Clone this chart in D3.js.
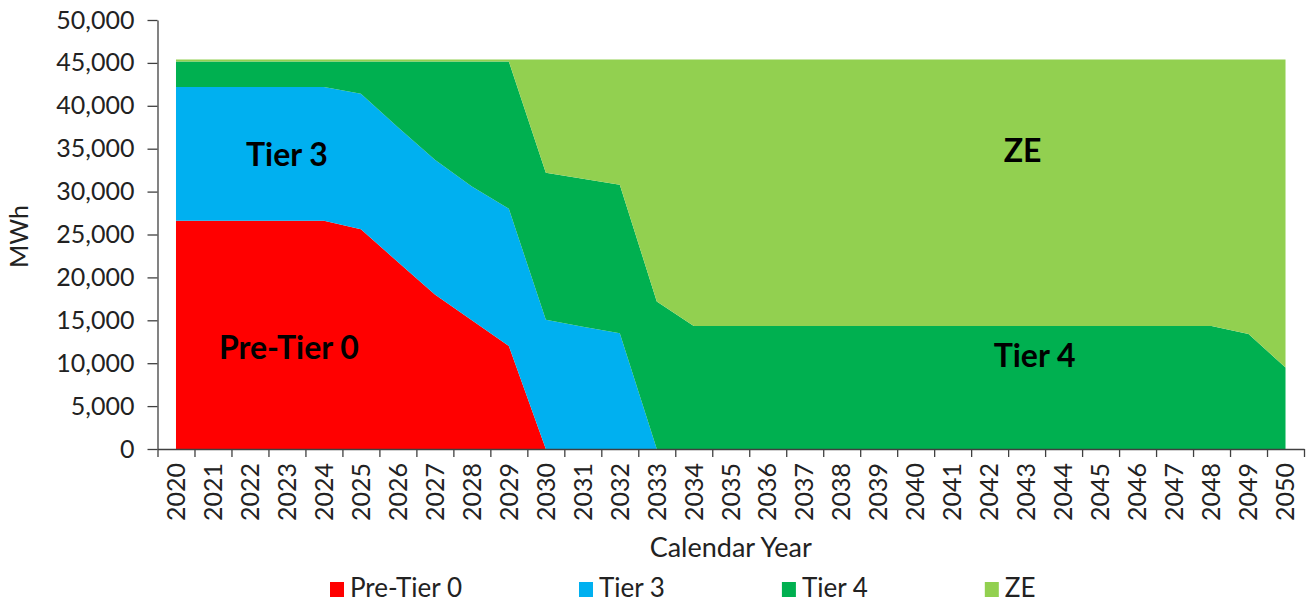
<!DOCTYPE html>
<html lang="en">
<head>
  <meta charset="utf-8">
  <title>MWh by engine tier</title>
  <script src="https://d3js.org/d3.v7.min.js"></script>
  <style>
    body {
      margin: 0;
      background: #fff;
      font-family: "Lato", "Open Sans", sans-serif;
    }
    .axis .domain, .axis line {
      stroke: #404040;
      stroke-width: 1.3;
    }
    .axis text {
      fill: #222;
      font-size: 25px;
      font-family: "Lato", sans-serif;
    }
    .area-label {
      font-weight: bold;
      font-size: 32px;
      fill: #000;
      text-anchor: middle;
    }
  </style>
</head>
<body>
<script>
  // data (MWh per year)
  var years = d3.range(2020, 2051).map(String);

  var preTier0 = [26600, 26600, 26600, 26600, 26600, 25600, 21800, 18000, 15000, 12000,
    0, 0, 0, 0, 0, 0, 0, 0, 0, 0, 0, 0, 0, 0, 0, 0, 0, 0, 0, 0, 0];
  var tier3 = [15600, 15600, 15600, 15600, 15600, 15800, 15700, 15700, 15600, 16000,
    15050, 14250, 13500, 0, 0, 0, 0, 0, 0, 0, 0, 0, 0, 0, 0, 0, 0, 0, 0, 0, 0];
  var tier4 = [2950, 2950, 2950, 2950, 2950, 3750, 7650, 11450, 14550, 17150,
    17150, 17250, 17300, 17200, 14350, 14350, 14350, 14350, 14350, 14350, 14350,
    14350, 14350, 14350, 14350, 14350, 14350, 14350, 14350, 13400, 9500];
  var ze = [250, 250, 250, 250, 250, 250, 250, 250, 250, 250,
    13200, 13900, 14600, 28200, 31050, 31050, 31050, 31050, 31050, 31050, 31050,
    31050, 31050, 31050, 31050, 31050, 31050, 31050, 31050, 32000, 35900];

  var seriesNames = ["Pre-Tier 0", "Tier 3", "Tier 4", "ZE"];
  var seriesColors = ["#ff0000", "#00b0f0", "#00b050", "#92d050"];
  var yTicks = d3.range(0, 50001, 5000);

  var width = 1307, height = 603;
  var plotLeft = 157.5, plotRight = 1304, plotTop = 20, plotBottom = 449;

  var svg = d3.select("body").append("svg")
    .attr("width", width)
    .attr("height", height);

  // build rows for the stack
  var rows = years.map(function(yr, i) {
    return { year: yr, "Pre-Tier 0": preTier0[i], "Tier 3": tier3[i], "Tier 4": tier4[i], "ZE": ze[i] };
  });
  var stacked = d3.stack().keys(seriesNames)(rows);

  var x = d3.scaleBand().domain(years).range([plotLeft, plotRight]).padding(0);
  var xc = function(yr) { return x(yr) + x.bandwidth() / 2; };
  var y = d3.scaleLinear().domain([0, 50000]).range([plotBottom, plotTop]);

  var area = d3.area()
    .x(function(d) { return xc(d.data.year); })
    .y0(function(d) { return y(d[0]); })
    .y1(function(d) { return y(d[1]); });

  svg.append("g").selectAll("path")
    .data(stacked)
    .enter()
    .append("path")
    .attr("d", area)
    .attr("fill", function(d, i) { return seriesColors[i]; });

  // y axis
  svg.append("g")
    .attr("class", "axis")
    .attr("transform", "translate(" + plotLeft + ",0)")
    .call(d3.axisLeft(y).tickValues(yTicks).tickFormat(d3.format(",")).tickSize(10).tickPadding(13).tickSizeOuter(0));

  // x axis: tick marks on category boundaries
  var xEdge = d3.scaleLinear().domain([0, years.length]).range([plotLeft, plotRight]);
  svg.append("g")
    .attr("class", "axis")
    .attr("transform", "translate(0," + plotBottom + ")")
    .call(d3.axisBottom(xEdge).tickValues(d3.range(0, years.length + 1)).tickFormat("").tickSize(8).tickSizeOuter(0));

  // x labels centred in each category, rotated
  var xLab = svg.append("g")
    .attr("class", "axis")
    .attr("transform", "translate(0," + plotBottom + ")")
    .call(d3.axisBottom(x).tickSize(0).tickSizeOuter(0));
  xLab.select(".domain").remove();
  xLab.selectAll("text")
    .attr("transform", "rotate(-90)")
    .attr("x", -14)
    .attr("y", 0)
    .attr("dy", "0.35em")
    .style("text-anchor", "end");

  // axis titles
  svg.append("text")
    .attr("x", (plotLeft + plotRight) / 2)
    .attr("y", 557)
    .attr("text-anchor", "middle")
    .style("font-size", "27px")
    .style("fill", "#222")
    .text("Calendar Year");

  svg.append("text")
    .attr("transform", "translate(28," + ((plotTop + plotBottom) / 2 + 2) + ") rotate(-90)")
    .attr("text-anchor", "middle")
    .style("font-size", "25px")
    .style("fill", "#222")
    .text("MWh");

  // labels inside the areas
  var areaLabels = [
    { text: "Pre-Tier 0", x: "2023", dx: 2, v: 10500 },
    { text: "Tier 3", x: "2023", dx: 0, v: 33000 },
    { text: "Tier 4", x: "2043", dx: 8, v: 9600 },
    { text: "ZE", x: "2043", dx: -4, v: 33500 }
  ];
  svg.append("g").selectAll("text")
    .data(areaLabels)
    .enter()
    .append("text")
    .attr("class", "area-label")
    .attr("x", function(d) { return xc(d.x) + d.dx; })
    .attr("y", function(d) { return y(d.v); })
    .text(function(d) { return d.text; });

  // legend
  var legend = svg.append("g").attr("transform", "translate(330,597)");
  var lx = 0;
  seriesNames.forEach(function(name, i) {
    var g = legend.append("g").attr("transform", "translate(" + lx + ",0)");
    g.append("rect")
      .attr("x", 0)
      .attr("y", -15)
      .attr("width", 14)
      .attr("height", 15)
      .attr("fill", seriesColors[i]);
    var t = g.append("text")
      .attr("x", 20)
      .attr("y", 0)
      .style("font-size", "26px")
      .style("fill", "#222")
      .text(name);
    lx += 20 + t.node().getComputedTextLength() + 117;
  });
</script>
</body>
</html>
